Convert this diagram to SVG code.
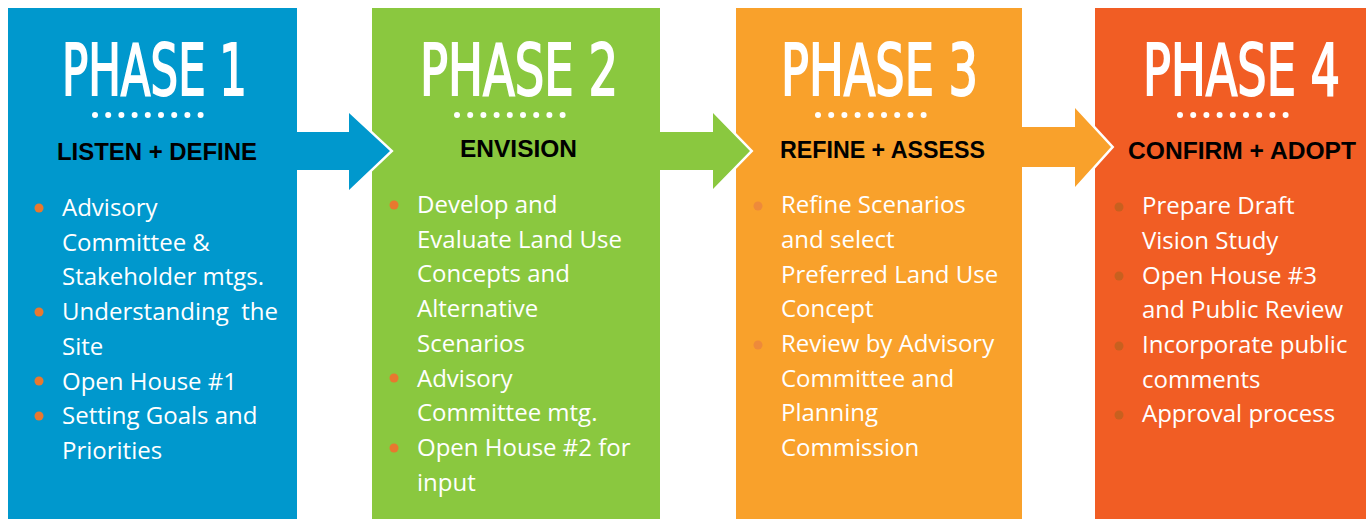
<svg xmlns="http://www.w3.org/2000/svg" width="1366" height="519" viewBox="0 0 1366 519">
<style>
.title{font-family:"DejaVu Sans Condensed","DejaVu Sans",sans-serif;font-stretch:condensed;font-size:48px;fill:#fff;stroke:#fff;stroke-width:1.3}
.sub{font-family:"Liberation Sans",Arial,sans-serif;font-weight:bold;font-size:23px;fill:#000}
.item{font-family:"Open Sans","Noto Sans",sans-serif;font-size:24px;fill:#fff;white-space:pre}
.dot{fill:#fff}
.outline{fill:none;stroke:#fff;stroke-width:5;stroke-linejoin:miter}
</style>
<defs>
<g id="dots">
<circle class="dot" cx="0" cy="0" r="3"/><circle class="dot" cx="13.2" cy="0" r="3"/><circle class="dot" cx="26.4" cy="0" r="3"/><circle class="dot" cx="39.6" cy="0" r="3"/><circle class="dot" cx="52.8" cy="0" r="3"/><circle class="dot" cx="66" cy="0" r="3"/><circle class="dot" cx="79.2" cy="0" r="3"/><circle class="dot" cx="92.4" cy="0" r="3"/><circle class="dot" cx="105.6" cy="0" r="3"/>
</g>
</defs>
<rect width="1366" height="519" fill="#fff"/>

<g id="phase1">
<rect x="8" y="8" width="289" height="520" fill="#0098CD"/>
<text class="title" transform="translate(62,95) scale(1,1.5)" textLength="185" lengthAdjust="spacingAndGlyphs">PHASE 1</text>
<use href="#dots" x="95" y="115"/>
<text class="sub" x="57" y="160" textLength="200" lengthAdjust="spacingAndGlyphs">LISTEN + DEFINE</text>
<g fill="#E8782F"><circle cx="39" cy="208" r="4.5"/><circle cx="39" cy="312" r="4.5"/><circle cx="39" cy="381" r="4.5"/><circle cx="39" cy="416" r="4.5"/></g>
<text class="item" x="62" y="216">Advisory</text>
<text class="item" x="62" y="251">Committee &amp;</text>
<text class="item" x="62" y="285">Stakeholder mtgs.</text>
<text class="item" x="62" y="320" xml:space="preserve">Understanding  the</text>
<text class="item" x="62" y="355">Site</text>
<text class="item" x="62" y="390">Open House #1</text>
<text class="item" x="62" y="424">Setting Goals and</text>
<text class="item" x="62" y="459">Priorities</text>
</g>

<g id="phase2">
<rect x="372" y="8" width="288" height="520" fill="#8AC83F"/>
<text class="title" transform="translate(420,95) scale(1,1.5)" textLength="198" lengthAdjust="spacingAndGlyphs">PHASE 2</text>
<use href="#dots" x="457" y="115"/>
<text class="sub" x="460" y="157" textLength="117" lengthAdjust="spacingAndGlyphs">ENVISION</text>
<g fill="#E8782F"><circle cx="394" cy="205" r="4.5"/><circle cx="394" cy="378" r="4.5"/><circle cx="394" cy="448" r="4.5"/></g>
<text class="item" x="417" y="213">Develop and</text>
<text class="item" x="417" y="248">Evaluate Land Use</text>
<text class="item" x="417" y="282">Concepts and</text>
<text class="item" x="417" y="317">Alternative</text>
<text class="item" x="417" y="352">Scenarios</text>
<text class="item" x="417" y="387">Advisory</text>
<text class="item" x="417" y="421">Committee mtg.</text>
<text class="item" x="417" y="456">Open House #2 for</text>
<text class="item" x="417" y="491">input</text>
</g>

<g id="phase3">
<rect x="736" y="8" width="286" height="520" fill="#F9A12B"/>
<text class="title" transform="translate(781,95) scale(1,1.5)" textLength="197" lengthAdjust="spacingAndGlyphs">PHASE 3</text>
<use href="#dots" x="818" y="115"/>
<text class="sub" x="780" y="158" textLength="205" lengthAdjust="spacingAndGlyphs">REFINE + ASSESS</text>
<g fill="#EE8A3A"><circle cx="758" cy="206" r="4.5"/><circle cx="758" cy="345" r="4.5"/></g>
<text class="item" x="781" y="213">Refine Scenarios</text>
<text class="item" x="781" y="248">and select</text>
<text class="item" x="781" y="283">Preferred Land Use</text>
<text class="item" x="781" y="317">Concept</text>
<text class="item" x="781" y="352">Review by Advisory</text>
<text class="item" x="781" y="387">Committee and</text>
<text class="item" x="781" y="421">Planning</text>
<text class="item" x="781" y="456">Commission</text>
</g>

<g id="phase4">
<rect x="1095" y="8" width="280" height="520" fill="#F15D24"/>
<text class="title" transform="translate(1143,95) scale(1,1.5)" textLength="197" lengthAdjust="spacingAndGlyphs">PHASE 4</text>
<use href="#dots" x="1180" y="115"/>
<text class="sub" x="1128" y="159" textLength="228" lengthAdjust="spacingAndGlyphs">CONFIRM + ADOPT</text>
<g fill="#C8601F"><circle cx="1119" cy="207" r="4.5"/><circle cx="1119" cy="276" r="4.5"/><circle cx="1119" cy="346" r="4.5"/><circle cx="1119" cy="415" r="4.5"/></g>
<text class="item" x="1142" y="214">Prepare Draft</text>
<text class="item" x="1142" y="249">Vision Study</text>
<text class="item" x="1142" y="284">Open House #3</text>
<text class="item" x="1142" y="318">and Public Review</text>
<text class="item" x="1142" y="353">Incorporate public</text>
<text class="item" x="1142" y="388">comments</text>
<text class="item" x="1142" y="422">Approval process</text>
</g>

<g id="connectors">
<polyline class="outline" points="349,113 390,151 349,190"/>
<polygon fill="#0098CD" points="290,132 349,132 349,113 390,151 349,190 349,170 290,170"/>
<polyline class="outline" points="713,113 750,151 713,189"/>
<polygon fill="#8AC83F" points="652,132 713,132 713,113 750,151 713,189 713,170 652,170"/>
<polyline class="outline" points="1075,108 1111,147 1075,187"/>
<polygon fill="#F9A12B" points="1015,127 1075,127 1075,108 1111,147 1075,187 1075,167 1015,167"/>
</g>
</svg>
